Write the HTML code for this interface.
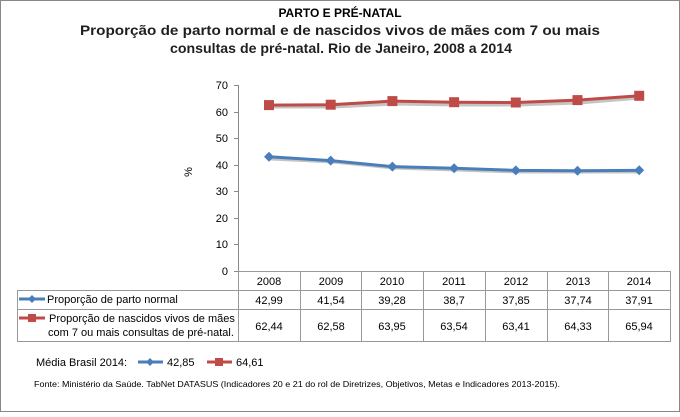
<!DOCTYPE html>
<html><head><meta charset="utf-8"><style>
body{margin:0;width:680px;height:412px;background:#fff;overflow:hidden}
svg text{font-family:"Liberation Sans",sans-serif}
</style></head><body>
<svg width="680" height="412" xmlns="http://www.w3.org/2000/svg">
<rect x="0.5" y="0.5" width="679" height="411" fill="#fff" stroke="#888"/>
<text x="340" y="17" font-size="12" font-weight="bold" text-anchor="middle" fill="#000">PARTO E PRÉ-NATAL</text>
<text x="80" y="35" font-size="14" font-weight="bold" fill="#1f1f1f" textLength="520" lengthAdjust="spacingAndGlyphs">Proporção de parto normal e de nascidos vivos de mães com 7 ou mais</text>
<text x="170" y="53" font-size="14" font-weight="bold" fill="#1f1f1f" textLength="342" lengthAdjust="spacingAndGlyphs">consultas de pré-natal. Rio de Janeiro, 2008 a 2014</text>
<g stroke="#888" stroke-width="1">
<line x1="238.5" y1="85" x2="238.5" y2="271"/>
<line x1="234" y1="85.5" x2="238" y2="85.5"/><line x1="234" y1="112.5" x2="238" y2="112.5"/><line x1="234" y1="138.5" x2="238" y2="138.5"/><line x1="234" y1="165.5" x2="238" y2="165.5"/><line x1="234" y1="191.5" x2="238" y2="191.5"/><line x1="234" y1="218.5" x2="238" y2="218.5"/><line x1="234" y1="244.5" x2="238" y2="244.5"/><line x1="234" y1="271.5" x2="238" y2="271.5"/>
</g>
<g font-size="11" fill="#000" text-anchor="end">
<text x="228" y="89">70</text><text x="228" y="116">60</text><text x="228" y="142">50</text><text x="228" y="169">40</text><text x="228" y="195">30</text><text x="228" y="222">20</text><text x="228" y="248">10</text><text x="228" y="275">0</text>
</g>
<text x="0" y="0" font-size="11" transform="translate(192,172) rotate(-90)" text-anchor="middle">%</text>
<polyline fill="none" stroke="#c4c4c4" stroke-width="3" points="271,159 333,162 394,168 456,170 518,172 579,172 641,172"/>
<polyline fill="none" stroke="#c4c4c4" stroke-width="3" points="271,107 333,107 394,104 456,105 518,105 579,103 641,98"/>
<polyline fill="none" stroke="#4a7ebb" stroke-width="3" points="269,156.8 330.7,160.6 392.4,166.6 454.1,168.2 515.8,170.4 577.5,170.7 639.2,170.3"/>
<g fill="#4a7ebb"><path d="M269,151.8 l5,5 -5,5 -5,-5z"/><path d="M330.7,155.6 l5,5 -5,5 -5,-5z"/><path d="M392.4,161.6 l5,5 -5,5 -5,-5z"/><path d="M454.1,163.2 l5,5 -5,5 -5,-5z"/><path d="M515.8,165.4 l5,5 -5,5 -5,-5z"/><path d="M577.5,165.7 l5,5 -5,5 -5,-5z"/><path d="M639.2,165.3 l5,5 -5,5 -5,-5z"/></g>
<polyline fill="none" stroke="#be4b48" stroke-width="3" points="269,105.1 330.7,104.7 392.4,101.1 454.1,102.2 515.8,102.5 577.5,100.1 639.2,95.8"/>
<g fill="#be4b48"><rect x="264" y="100.1" width="10" height="10"/><rect x="325.7" y="99.7" width="10" height="10"/><rect x="387.4" y="96.1" width="10" height="10"/><rect x="449.1" y="97.2" width="10" height="10"/><rect x="510.8" y="97.5" width="10" height="10"/><rect x="572.5" y="95.1" width="10" height="10"/><rect x="634.2" y="90.8" width="10" height="10"/></g>
<g stroke="#999" stroke-width="1" fill="none">
<rect x="238.5" y="271.5" width="432" height="19"/>
<rect x="17.5" y="290.5" width="653" height="51"/>
<line x1="17.5" y1="309.5" x2="670.5" y2="309.5"/>
<line x1="238.5" y1="290" x2="238.5" y2="341"/>
<line x1="300.5" y1="271" x2="300.5" y2="341"/><line x1="361.5" y1="271" x2="361.5" y2="341"/><line x1="423.5" y1="271" x2="423.5" y2="341"/><line x1="485.5" y1="271" x2="485.5" y2="341"/><line x1="547.5" y1="271" x2="547.5" y2="341"/><line x1="608.5" y1="271" x2="608.5" y2="341"/>
</g>
<g font-size="11" fill="#000" text-anchor="middle">
<text x="269" y="285">2008</text><text x="331" y="285">2009</text><text x="392" y="285">2010</text><text x="454" y="285">2011</text><text x="516" y="285">2012</text><text x="578" y="285">2013</text><text x="639" y="285">2014</text>
<text x="269" y="304">42,99</text><text x="331" y="304">41,54</text><text x="392" y="304">39,28</text><text x="454" y="304">38,7</text><text x="516" y="304">37,85</text><text x="578" y="304">37,74</text><text x="639" y="304">37,91</text>
<text x="269" y="330">62,44</text><text x="331" y="330">62,58</text><text x="392" y="330">63,95</text><text x="454" y="330">63,54</text><text x="516" y="330">63,41</text><text x="578" y="330">64,33</text><text x="639" y="330">65,94</text>
</g>
<line x1="19" y1="299" x2="45" y2="299" stroke="#4a7ebb" stroke-width="3"/><path d="M32,295 l4,4 -4,4 -4,-4z" fill="#4a7ebb"/>
<text x="47" y="303" font-size="11">Proporção de parto normal</text>
<line x1="19" y1="318" x2="45" y2="318" stroke="#be4b48" stroke-width="3"/><rect x="28" y="314" width="8" height="8" fill="#be4b48"/>
<text x="49" y="322" font-size="11">Proporção de nascidos vivos de mães</text>
<text x="48" y="336" font-size="11">com 7 ou mais consultas de pré-natal.</text>
<text x="36" y="366" font-size="11">Média Brasil 2014:</text>
<line x1="138" y1="362" x2="163" y2="362" stroke="#4a7ebb" stroke-width="3"/><path d="M150,358 l4,4 -4,4 -4,-4z" fill="#4a7ebb"/>
<text x="167" y="366" font-size="11">42,85</text>
<line x1="207" y1="362" x2="232" y2="362" stroke="#be4b48" stroke-width="3"/><rect x="215" y="358" width="8" height="8" fill="#be4b48"/>
<text x="236" y="366" font-size="11">64,61</text>
<text x="34" y="387" font-size="8.5" textLength="526" lengthAdjust="spacingAndGlyphs">Fonte: Ministério da Saúde. TabNet DATASUS (Indicadores 20 e 21 do rol de Diretrizes, Objetivos, Metas e Indicadores 2013-2015).</text>
</svg>
</body></html>
